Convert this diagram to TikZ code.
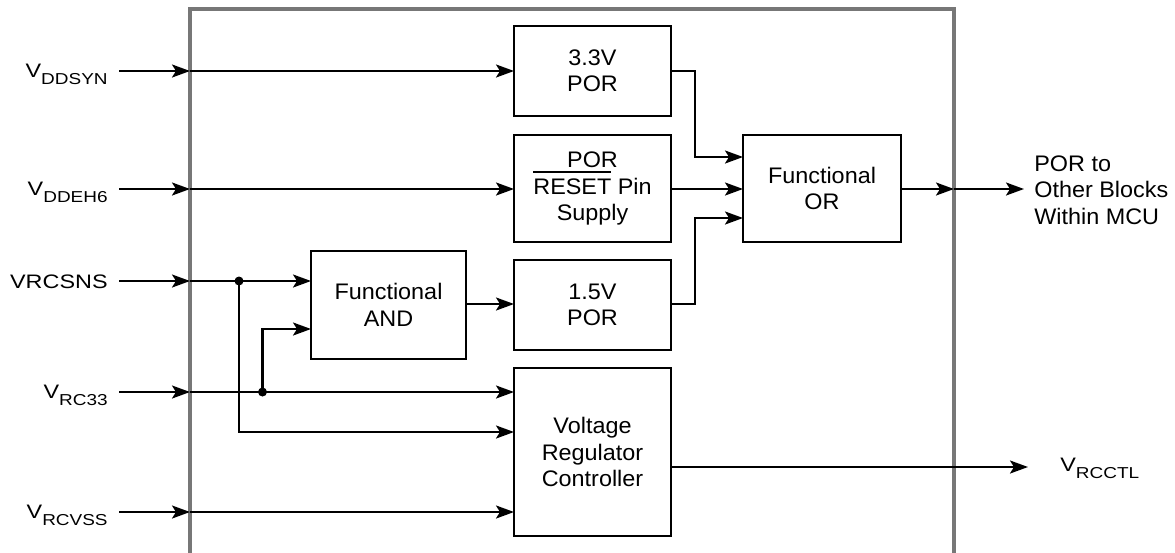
\documentclass[tikz,border=0pt]{standalone}
\usepackage{fontspec}
\setmainfont{Liberation Sans}[FakeStretch=1.04]
\newfontfamily\labfont{Liberation Sans}[FakeStretch=1.2]
\usetikzlibrary{arrows.meta}
\newcommand{\sbs}[1]{\raisebox{-0.36em}{\fontsize{9.0}{11}\selectfont #1}}
\newcommand{\ovl}[1]{\setbox0\hbox{#1}\rlap{\rule[0.95em]{\wd0}{0.09em}}\box0}
\definecolor{bordergray}{HTML}{777777}
\tikzset{
  every node/.style={font=\fontsize{12.8}{15}\selectfont},
  blk/.style={draw=black, line width=1.3pt, inner sep=0pt, outer sep=0pt, align=center},
  wire/.style={line width=1.3pt, draw=black},
  arr/.style={wire, -{Stealth[length=0.36cm, width=0.26cm, inset=0.08cm]}},
  border/.style={draw=bordergray, line width=2pt},
  lab/.style={anchor=base east, inner sep=0pt, font=\labfont\fontsize{11.1}{13}\selectfont},
  dot/.style={circle, fill=black, inner sep=0pt, minimum size=0.18cm}
}
\begin{document}
\begin{tikzpicture}[x=0.02cm, y=-0.02cm]
\useasboundingbox (0,0) rectangle (1175,552);
% outer border
\draw[border] (190,553) -- (190,9) -- (954,9) -- (954,553);
% blocks
\node[blk, minimum width=3.14cm, minimum height=1.8cm] (p33) at (592.5,71) {3.3V\\POR};
\node[blk, minimum width=3.14cm, minimum height=2.14cm] (prst) at (592.5,188.5) {POR\\\ovl{RESET}\ Pin\\Supply};
\node[blk, minimum width=3.14cm, minimum height=1.8cm] (p15) at (592.5,305) {1.5V\\POR};
\node[blk, minimum width=3.14cm, minimum height=3.36cm] (vrc) at (592.5,452) {Voltage\\Regulator\\Controller};
\node[blk, minimum width=3.10cm, minimum height=2.16cm] (and) at (388.5,305) {Functional\\AND};
\node[blk, minimum width=3.16cm, minimum height=2.14cm] (or) at (822,188.5) {Functional\\OR};
% labels
\node[lab] (lDDSYN) at (108,77) {V\sbs{DDSYN}};
\node[lab] (lDDEH6) at (108,195) {V\sbs{DDEH6}};
\node[lab] (lRCSNS) at (108,288) {VRCSNS};
\node[lab] (lRC33) at (108,398) {V\sbs{RC33}};
\node[lab] (lRCVSS) at (108,518) {V\sbs{RCVSS}};
\node[lab, anchor=base west] (lRCCTL) at (1060,471) {V\sbs{RCCTL}};
\node[anchor=west, inner sep=0pt, align=left] (lout) at (1034,190) {POR to\\Other Blocks\\Within MCU};
% coordinates
\coordinate (s1) at (119,71);  \coordinate (b1) at (190,71);
\coordinate (s2) at (119,189); \coordinate (b2) at (190,189);
\coordinate (s3) at (119,281); \coordinate (b3) at (190,281);
\coordinate (s4) at (119,392); \coordinate (b4) at (190,392);
\coordinate (s5) at (119,512); \coordinate (b5) at (190,512);
\node[dot] (j1) at (239,281) {};
\node[dot] (j2) at (262.5,392) {};
\coordinate (bo) at (954,189);
\coordinate (eo) at (1024,189);
\coordinate (ec) at (1028,467);
% inputs
\draw[arr] (s1) -- (b1);
\draw[arr] (b1) -- (p33.west |- b1);
\draw[arr] (s2) -- (b2);
\draw[arr] (b2) -- (prst.west |- b2);
\draw[arr] (s3) -- (b3);
\draw[arr] (b3) -- (and.west |- b3);
\draw[arr] (s4) -- (b4);
\draw[arr] (b4) -- (vrc.west |- b4);
\draw[arr] (s5) -- (b5);
\draw[arr] (b5) -- (vrc.west |- b5);
% branches
\draw[arr] (j1.center) -- (239,432) -- (vrc.west |- 0,432);
\draw[arr] (j2.center) -- (262.5,329) -- (and.west |- 0,329);
% internal
\draw[arr] (and.east |- 0,304) -- (p15.west |- 0,304);
\draw[arr] (p33.east) -- (695,71) -- (695,157) -- (or.west |- 0,157);
\draw[arr] (prst.east |- 0,189) -- (or.west |- 0,189);
\draw[arr] (p15.east |- 0,304) -- (695,304) -- (695,218) -- (or.west |- 0,218);
% outputs
\draw[arr] (or.east |- bo) -- (bo);
\draw[arr] (bo) -- (eo);
\draw[arr] (vrc.east |- ec) -- (ec);
\end{tikzpicture}
\end{document}
